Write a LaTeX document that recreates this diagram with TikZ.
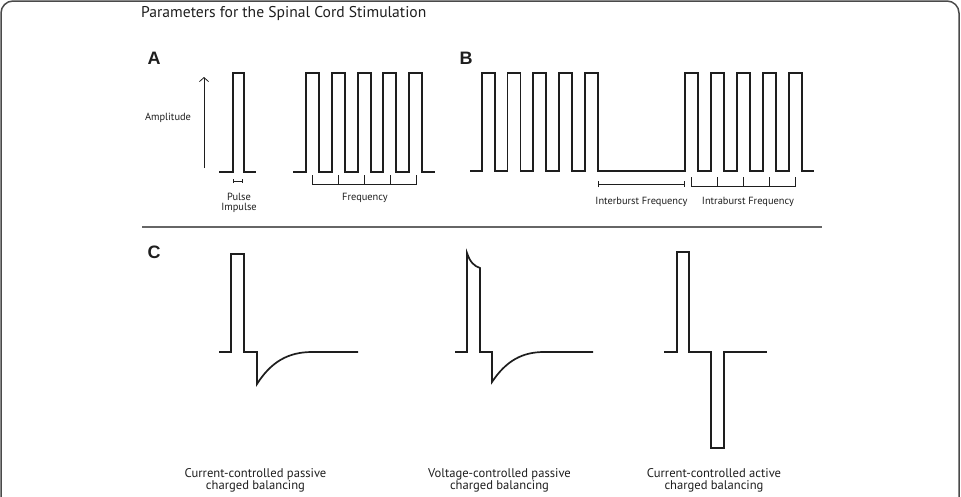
\documentclass[tikz,border=0pt]{standalone}
\usepackage{fontspec}
\setmainfont{PT Sans}
\newfontfamily\panelfont{Liberation Sans}
\usepackage{tikz}
\usetikzlibrary{arrows.meta,positioning}
\definecolor{FrameGray}{HTML}{4A4A4A}
\definecolor{RuleGray}{HTML}{666666}
\definecolor{InkBlack}{HTML}{1E1E1E}

\begin{document}
\begin{tikzpicture}[
  x=1pt,y=-1pt,
  wave/.style={draw=InkBlack,line width=1.7pt,line join=miter},
  brace/.style={draw=InkBlack,line width=0.9pt},
  tag/.style={font=\panelfont\bfseries\fontsize{18}{18}\selectfont,text=InkBlack,inner sep=0pt},
  lbl/.style={font=\fontsize{10.4}{10}\selectfont,text=InkBlack,align=center,inner sep=0pt},
  caption/.style={font=\fontsize{12.6}{11.8}\selectfont,text=InkBlack,align=center,inner sep=0pt},
]
\useasboundingbox (0,0) rectangle (961,496);
% frame and title
\draw[FrameGray,line width=1.5pt,rounded corners=12pt] (1,500) -- (1,1) -- (959,1) -- (959,500);
\node[font=\fontsize{15.6}{16}\selectfont,text=InkBlack,anchor=west,inner sep=0pt] (title) at (141,14) {Parameters for the Spinal Cord Stimulation};

% panel A
\node[tag] (tagA) at (154,58) {A};
\coordinate (ampLo) at (204,168);
\coordinate (ampHi) at (204,77);
\draw[InkBlack,line width=0.8pt,-{Straight Barb[length=4pt,width=9pt]}] (ampLo) -- (ampHi);
\node[lbl] (amp) at (168,118) {Amplitude};
\draw[wave] (219,172) -- (233,172) -- (233,73) -- (244,73) -- (244,172) -- (256,172);
\coordinate (pwL) at (233,181);
\coordinate (pwR) at (243,181);
\draw[brace,{Bar[width=4pt]}-{Bar[width=4pt]}] (pwL) -- (pwR);
\node[lbl] (pulse) at (239,203) {Pulse\\Impulse};
\draw[wave] (293,172) \foreach \x in {306,332,358,383,409} {-- (\x,172) -- (\x,73) -- (\x+13,73) -- (\x+13,172)} -- (435,172);
\draw[brace] (312.5,175) -- (312.5,184) -- (416,184) -- (416,175);
\foreach \x in {338.5,364.5,390} \draw[brace] (\x,184) -- (\x,175);
\node[lbl] (freq) at (365,198) {Frequency};

% panel B
\node[tag] (tagB) at (466,58) {B};
\draw[wave] (470,171) \foreach \x in {482,507.5,533,559,585} {-- (\x,171) -- (\x,73) -- (\x+13,73) -- (\x+13,171)}
  \foreach \x in {685,711,737,763,789} {-- (\x,171) -- (\x,73) -- (\x+13,73) -- (\x+13,171)} -- (814,171);
\coordinate (ibL) at (598,184);
\coordinate (ibR) at (685,184);
\draw[brace,{Bar[width=6pt]}-{Bar[width=6pt]}] (ibL) -- (ibR);
\node[lbl] (inter) at (641.5,202) {Interburst Frequency};
\draw[brace] (691.5,177) -- (691.5,186) -- (795.5,186) -- (795.5,177);
\foreach \x in {717.5,743.5,769.5} \draw[brace] (\x,186) -- (\x,177);
\node[lbl] (intra) at (748,202) {Intraburst Frequency};

% separator
\draw[RuleGray,line width=1.8pt] (142,227) -- (822,227);

% panel C
\node[tag] (tagC) at (154,252) {C};
\draw[wave] (219,352) -- (231,352) -- (231,254) -- (244,254) -- (244,352) -- (257,352) -- (257,384)
  .. controls (271,362) and (288,352) .. (312,352) -- (358,352);
\draw[wave] (455,352) -- (467,352) -- (467,253) .. controls (470,262) and (474,266) .. (480,268)
  -- (480,352) -- (492,352) -- (492,382) .. controls (506,361) and (522,352) .. (544,352) -- (593,352);
\draw[wave] (664,352) -- (677,352) -- (677,252) -- (689,252) -- (689,352) -- (711,352) -- (711,448)
  -- (724,448) -- (724,352) -- (767,352);
\node[caption] (ccp) at (255.5,480) {Current-controlled passive\\charged balancing};
\node[caption] (vcp) at (499.5,480) {Voltage-controlled passive\\charged balancing};
\node[caption] (cca) at (714,480) {Current-controlled active\\charged balancing};
\end{tikzpicture}
\end{document}
